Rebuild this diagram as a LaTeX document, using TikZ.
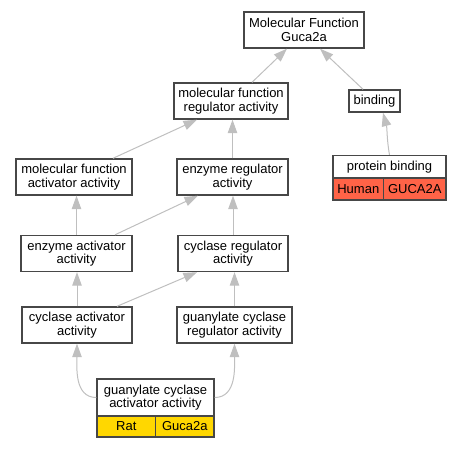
\documentclass[tikz,border=0pt]{standalone}
\usepackage{fontspec}
\setmainfont{Liberation Sans}
\usetikzlibrary{arrows.meta}
\begin{document}
\begin{tikzpicture}[x=1pt,y=-1pt,
	term/.style={draw=black!72,line width=1.4pt,fill=white,inner sep=0pt,align=center,
		minimum height=36pt,font=\fontsize{13}{13.4}\selectfont},
	cell/.style={term,minimum height=21pt},
	isa/.style={draw=black!25,line width=1pt,-{Triangle[length=13.5pt,width=9.5pt,fill=black!25]}}]
			\definecolor{ratcolor}{HTML}{FFD700}
			\definecolor{humancolor}{HTML}{FF6347}
			\useasboundingbox (0,0) rectangle (461,448);
			%Top level
			\node [term,minimum width=120pt] (mfguca) at (304,30) {Molecular Function\\Guca2a};
			\node [term,minimum width=114pt] (mfreg) at (231,101) {molecular function\\regulator activity};
			\node [term,minimum width=51pt,minimum height=22pt] (binding) at (374.5,101) {binding};
			%Second level
			\node [term,minimum width=116pt] (mfact) at (74,177) {molecular function\\activator activity};
			\node [term,minimum width=111pt] (enzreg) at (232.5,177) {enzyme regulator\\activity};
			%Protein binding with its gene
			\node [term,minimum width=113pt,minimum height=23pt] (pbind) at (389.5,167) {protein binding};
			\node [cell,fill=humancolor,minimum width=50.7pt,minimum height=22pt] (human) at (358.3,189) {Human};
			\node [cell,fill=humancolor,minimum width=62.3pt,minimum height=22pt] (guca2ah) at (414.8,189) {GUCA2A};
			%Third level
			\node [term,minimum width=111pt] (enzact) at (76.5,253.5) {enzyme activator\\activity};
			\node [term,minimum width=110pt] (cycreg) at (233,253.5) {cyclase regulator\\activity};
			%Fourth level
			\node [term,minimum width=110pt] (cycact) at (77,325) {cyclase activator\\activity};
			\node [term,minimum width=115pt] (gcreg) at (234.5,325) {guanylate cyclase\\regulator activity};
			%Bottom term with its gene
			\node [term,minimum width=117pt,minimum height=37pt] (gcact) at (155.5,397.5) {guanylate cyclase\\activator activity};
			\node [cell,fill=ratcolor,minimum width=58.7pt] (rat) at (126.3,426.5) {Rat};
			\node [cell,fill=ratcolor,minimum width=58.3pt] (guca2ar) at (184.8,426.5) {Guca2a};
			%Edges to the top
			\draw [isa] ([xshift=21pt]mfreg.north) -- ([xshift=-17pt]mfguca.south);
			\draw [isa] ([xshift=-11.5pt]binding.north) -- ([xshift=16pt]mfguca.south);
			\draw [isa] (pbind.north) to[out=100,in=-75] ([xshift=8.5pt]binding.south);
			%Edges to the second row
			\draw [isa] ([xshift=39pt]mfact.north) -- ([xshift=-34pt]mfreg.south);
			\draw [isa] (enzreg.north) -- (enzreg.north |- mfreg.south);
			%Edges to the third row
			\draw [isa] (enzact.north) -- (enzact.north |- mfact.south);
			\draw [isa] ([xshift=38.5pt]enzact.north) -- ([xshift=-34.5pt]enzreg.south);
			\draw [isa] (cycreg.north) -- (cycreg.north |- enzreg.south);
			%Edges to the fourth row
			\draw [isa] (cycact.north) -- (cycact.north |- enzact.south);
			\draw [isa] ([xshift=40pt]cycact.north) -- ([xshift=-36pt]cycreg.south);
			\draw [isa] (gcreg.north) -- (gcreg.north |- cycreg.south);
			%Edges from the bottom term
			\draw [isa] (gcact.west) to[out=180,in=-90] (cycact.south);
			\draw [isa] (gcact.east) to[out=0,in=-90] (gcreg.south);
\end{tikzpicture}
\end{document}
